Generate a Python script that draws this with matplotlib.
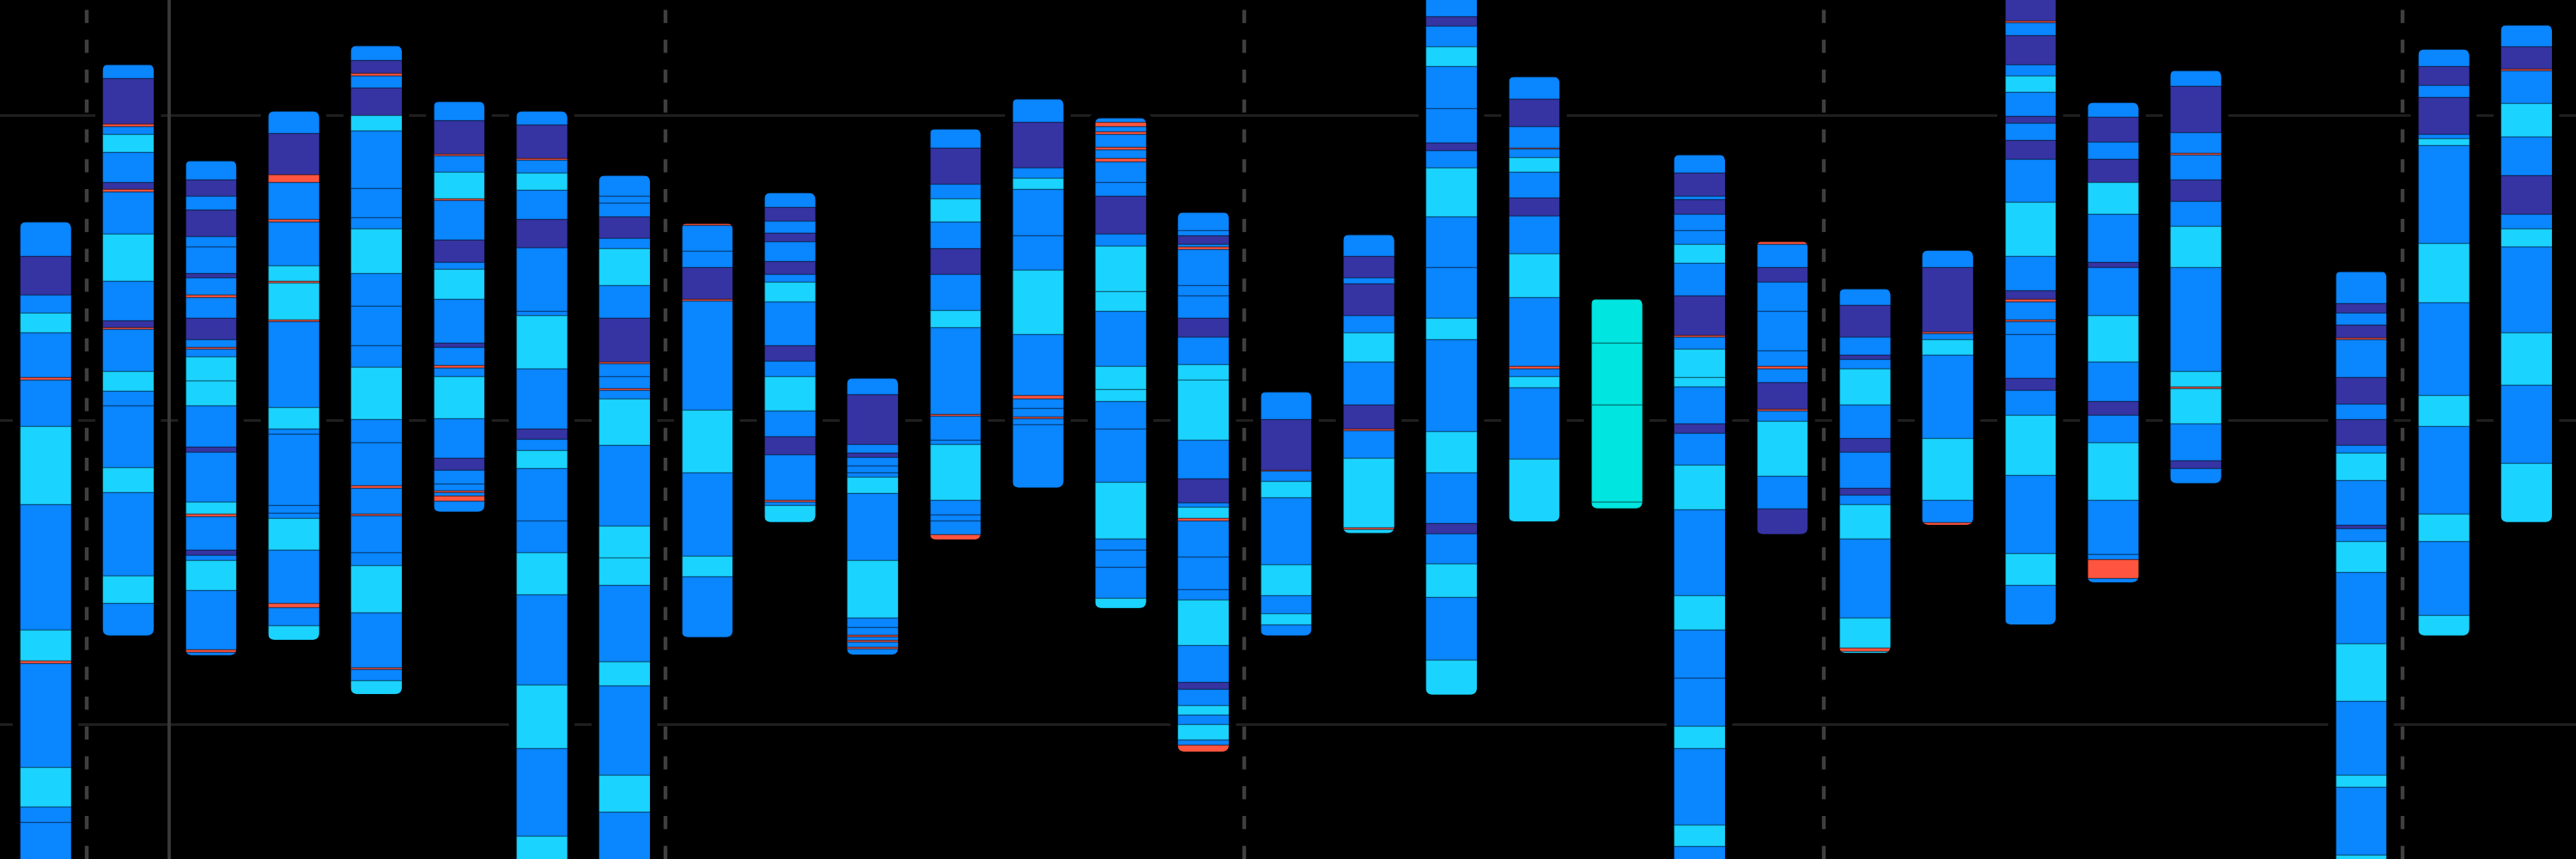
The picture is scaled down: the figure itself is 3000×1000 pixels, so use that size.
import numpy as np
import matplotlib
matplotlib.use("Agg")
import matplotlib.pyplot as plt
from matplotlib.patches import FancyBboxPatch
import matplotlib.patheffects as pe

# colour codes used in the band strings
palette = {"B": "#0A86FF", "C": "#1BD3FF", "P": "#3634A3", "R": "#FF5540", "T": "#00E5DF"}

# column slot of every bar (slot 27 is empty)
slots = list(range(27)) + [28, 29, 30]

# band boundaries (top -> bottom) and band colours, one pair per bar
b00_edges = [405, 467, 538, 570, 607, 689, 693, 777, 920, 1150, 1206, 1211, 1400, 1473, 1500, 1700]
b00_cols = "BPBCBRBCBCRBCBB"
b01_edges = [117, 142, 226, 230, 245, 278, 333, 345, 349, 426, 512, 585, 597, 601, 678, 714, 740, 853, 898, 1050, 1100, 1160]
b01_cols = "BPRBCBPRBCBPRBCBBCBCB"
b02_edges = [293, 327, 357, 382, 431, 450, 499, 506, 538, 542, 580, 619, 633, 637, 650, 694, 740, 815, 825, 915, 938, 942, 1004, 1013, 1022, 1077, 1186, 1190, 1196]
b02_cols = "BPBPBBPBRBPBRBCCBPBCRBPBCBRB"
b03_edges = [203, 243, 319, 332, 400, 404, 484, 512, 516, 583, 587, 744, 782, 792, 922, 936, 946, 1003, 1101, 1108, 1141, 1168]
b03_cols = "BPRBRBCRCRBCBBBBCBRBC"
b04_edges = [83, 109, 134, 138, 160, 210, 239, 343, 397, 417, 499, 558, 631, 669, 765, 808, 886, 890, 937, 941, 1008, 1031, 1118, 1218, 1222, 1242, 1267]
b04_cols = "BPRBPCBBBCBBBCBBRBRBBCBRBC"
b05_edges = [185, 220, 280, 284, 313, 362, 365, 438, 478, 491, 545, 625, 634, 667, 671, 686, 764, 836, 858, 882, 895, 898, 904, 914, 934]
b05_cols = "BPRBCRBPBCBPBRBCBPBBRBRB"
b06_edges = [203, 228, 288, 291, 315, 347, 400, 452, 568, 575, 673, 782, 802, 822, 855, 950, 1008, 1085, 1250, 1365, 1525, 1700]
b06_cols = "BPRBCBPBBCBPBCBBCBCBC"
b07_edges = [320, 357, 370, 395, 435, 453, 520, 580, 660, 664, 686, 708, 712, 728, 813, 960, 1017, 1068, 1208, 1252, 1415, 1482, 1700]
b07_cols = "BBBPBCBPRBBRBCBCCBCBCB"
b08_edges = [407, 411, 458, 487, 545, 549, 748, 862, 1015, 1052, 1163]
b08_cols = "RBBPRBCBCB"
b09_edges = [352, 378, 403, 425, 440, 477, 500, 515, 550, 630, 658, 687, 750, 797, 830, 912, 915, 922, 953]
b09_cols = "BPBPBPBCBPBCBPBRBC"
b10_edges = [690, 720, 810, 826, 834, 850, 862, 870, 900, 1022, 1127, 1145, 1158, 1162, 1168, 1172, 1180, 1184, 1195]
b10_cols = "BPBPBBBCBCBBRBRBRB"
b11_edges = [235, 270, 335, 362, 405, 453, 500, 566, 598, 755, 759, 803, 810, 912, 940, 950, 975, 985]
b11_cols = "BPBCBPBCBRBBCBBBR"
b12_edges = [180, 222, 305, 325, 345, 430, 493, 610, 722, 727, 745, 760, 764, 775, 890]
b12_cols = "BPBCBBCBRBBRBB"
b13_edges = [215, 222, 230, 240, 244, 268, 273, 288, 295, 333, 358, 427, 448, 532, 567, 668, 710, 733, 783, 880, 983, 1003, 1035, 1092, 1110]
b13_cols = "BRBRBRBRBBPBCCBCCBBCBBBC"
b14_edges = [387, 420, 430, 446, 450, 454, 520, 540, 580, 615, 665, 693, 803, 873, 918, 925, 945, 950, 1016, 1076, 1095, 1178, 1245, 1258, 1288, 1305, 1322, 1350, 1360, 1372]
b14_cols = "BBPBRBBBPBCCBPBCRBBBCBPBCBCBR"
b15_edges = [715, 765, 857, 860, 878, 908, 1030, 1087, 1120, 1140, 1160]
b15_cols = "BPRBCBCBCB"
b16_edges = [428, 467, 507, 517, 575, 607, 660, 738, 782, 785, 835, 962, 966, 973]
b16_cols = "BPBPBCBPRBCRC"
b17_edges = [-60, 30, 47, 85, 120, 197, 260, 275, 305, 395, 487, 580, 620, 787, 862, 955, 973, 1028, 1090, 1205, 1268]
b17_cols = "BPBCBBPBCBBCBCBPBCBC"
b18_edges = [140, 180, 230, 269, 272, 287, 313, 360, 393, 462, 543, 668, 672, 687, 707, 838, 952]
b18_cols = "BPBRBCBPBCBRBCBC"
b19_edges = [545, 626, 738, 916, 928]
b19_cols = "TTTT"
b20_edges = [282, 315, 358, 363, 390, 420, 445, 480, 540, 612, 615, 637, 689, 705, 773, 790, 848, 930, 1087, 1150, 1237, 1325, 1365, 1505, 1545, 1700]
b20_cols = "BPBPBBCBPRBCCBPBCBCBBCBCB"
b21_edges = [440, 446, 487, 515, 567, 640, 668, 672, 697, 747, 750, 768, 868, 928, 975]
b21_cols = "RBPBBBRBPRBCBP"
b22_edges = [527, 557, 615, 648, 655, 673, 738, 800, 825, 890, 903, 920, 983, 1128, 1183, 1188, 1192]
b22_cols = "BPBPBCBPBPBCBCRC"
b23_edges = [457, 487, 605, 609, 620, 648, 800, 913, 954, 958]
b23_cols = "BPRBCBCBR"
b24_edges = [-60, 37, 41, 65, 118, 138, 167, 212, 225, 255, 290, 368, 467, 530, 546, 550, 583, 587, 610, 690, 712, 758, 867, 1010, 1068, 1140]
b24_cols = "PRBPBCBPBPBCBPRBRBBPBCBCB"
b25_edges = [187, 213, 258, 290, 332, 390, 478, 488, 575, 660, 733, 758, 808, 912, 1012, 1020, 1055, 1063]
b25_cols = "BPBPCBPBCBPBCBBRB"
b26_edges = [128, 157, 242, 279, 282, 328, 367, 412, 487, 678, 706, 709, 773, 840, 855, 882]
b26_cols = "BPBRBPBCBCRCBPB"
b28_edges = [495, 553, 570, 593, 616, 619, 688, 737, 765, 812, 827, 877, 958, 965, 988, 1045, 1175, 1280, 1415, 1437, 1560, 1700]
b28_cols = "BPBPRBPBPBCBPBCBCBCBC"
b29_edges = [90, 120, 155, 177, 245, 252, 265, 443, 552, 722, 778, 937, 988, 1123, 1160]
b29_cols = "BPBPBCBCBCBCBC"
b30_edges = [45, 85, 126, 129, 188, 250, 320, 390, 417, 450, 607, 703, 845, 953]
b30_cols = "BPRBCBPBCBCBC"

bar_edges = [b00_edges, b01_edges, b02_edges, b03_edges, b04_edges, b05_edges, b06_edges,
             b07_edges, b08_edges, b09_edges, b10_edges, b11_edges, b12_edges, b13_edges,
             b14_edges, b15_edges, b16_edges, b17_edges, b18_edges, b19_edges, b20_edges,
             b21_edges, b22_edges, b23_edges, b24_edges, b25_edges, b26_edges, b28_edges,
             b29_edges, b30_edges]
bar_cols = [b00_cols, b01_cols, b02_cols, b03_cols, b04_cols, b05_cols, b06_cols,
            b07_cols, b08_cols, b09_cols, b10_cols, b11_cols, b12_cols, b13_cols,
            b14_cols, b15_cols, b16_cols, b17_cols, b18_cols, b19_cols, b20_cols,
            b21_cols, b22_cols, b23_cols, b24_cols, b25_cols, b26_cols, b28_cols,
            b29_cols, b30_cols]

grid_values = [210, 766, 1322]
week_lines = [0.5, 7.5, 14.5, 21.5, 28.5]
today_line = 1.5

fig = plt.figure(figsize=(30, 10), dpi=100, facecolor="black")
ax = fig.add_axes([0, 0, 1, 1])
ax.set_facecolor("black")
ax.set_xlim(-0.55, 30.6)
ax.set_ylim(1568, 0)
ax.axis("off")

for g in grid_values:
    ax.axhline(g, color="#1f1f1f", linewidth=2.2, zorder=1)

for w in week_lines:
    ax.axvline(w, color="#3f3f3f", linewidth=3.2, dashes=(3.45, 4.37), zorder=1.5,
               path_effects=[pe.Stroke(linewidth=8, foreground="black"), pe.Normal()])
ax.axvline(today_line, color="#3a3a3a", linewidth=2.7, zorder=1.5)

width = 0.62
rad = 0.085
aspect = 151  # y units per x unit, keeps the corners round

for x, edges, cols in zip(slots, bar_edges, bar_cols):
    top, bottom = edges[0], edges[-1]
    shape = dict(boxstyle="round,pad=0,rounding_size=%g" % rad, mutation_aspect=aspect,
                 transform=ax.transData)
    halo = FancyBboxPatch((x - width / 2, top), width, bottom - top, facecolor="black",
                          edgecolor="black", linewidth=12, zorder=2, **shape)
    ax.add_patch(halo)
    clip = FancyBboxPatch((x - width / 2, top), width, bottom - top, facecolor="none",
                          edgecolor="none", zorder=2, **shape)
    ax.add_patch(clip)

    heights = np.diff(edges)
    colors = [palette[c] for c in cols]
    rects = ax.bar(np.full(len(heights), x), heights, bottom=edges[:-1], width=width,
                   color=colors, edgecolor=(0, 0, 0, 0.25), linewidth=1.0, zorder=3)
    for r in rects:
        r.set_clip_path(clip)

fig.savefig("out.png", dpi=100, facecolor="black")
